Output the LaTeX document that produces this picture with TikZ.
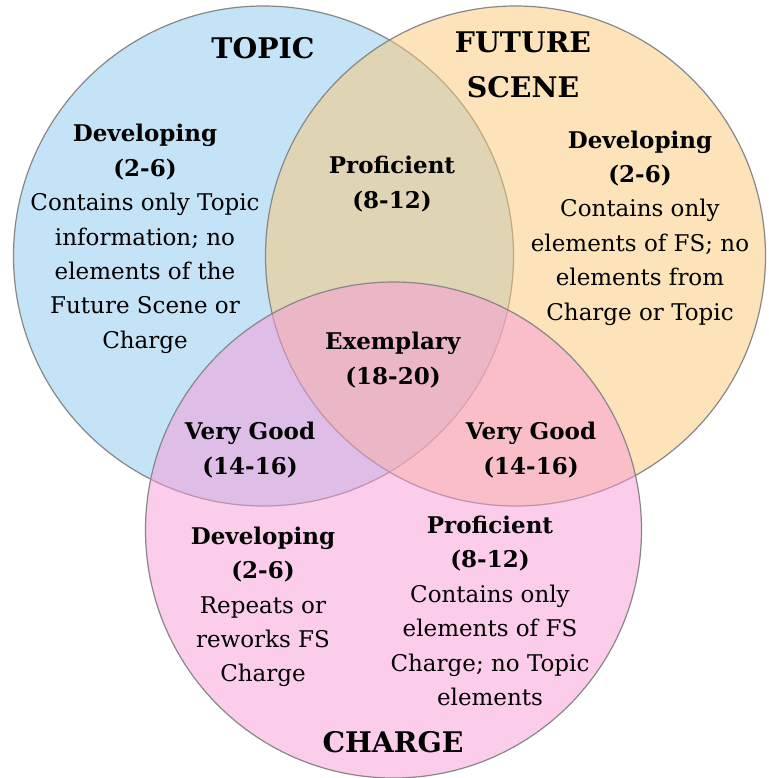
\documentclass[tikz,border=0pt]{standalone}
\usepackage{fontspec}
\setmainfont{DejaVu Serif}
\definecolor{edge_gray}{RGB}{135,135,135}
\definecolor{set_blue}{RGB}{139,199,237}
\definecolor{set_orange}{RGB}{251,199,117}
\definecolor{set_pink}{RGB}{247,155,215}
\begin{document}
\begin{tikzpicture}[x=0.5pt,y=-0.5pt]
    \tikzstyle{setcircle}=[draw=edge_gray, line width=0.6pt, fill opacity=0.5]
    \tikzstyle{title}=[font=\fontsize{14.2}{22.5}\selectfont\bfseries, align=center, inner sep=0pt, text=black]
    \tikzstyle{score}=[font=\fontsize{11.5}{17.2}\selectfont, align=center, inner sep=0pt, text=black]

    \useasboundingbox (0,0) rectangle (768,778);

    % the three sets
    \draw[setcircle,fill=set_blue]   (263.5,256) circle [radius=125pt];
    \draw[setcircle,fill=set_orange] (515.5,256) circle [radius=125pt];
    \draw[setcircle,fill=set_pink]   (393.5,530) circle [radius=124pt];

    \node[title] (topic)  at (263,48)  {TOPIC};
    \node[title] (future) at (523,65)  {FUTURE\\SCENE};
    \node[title] (charge) at (393,742) {CHARGE};

    % one set only
    \node[score] (topic_dev)  at (145,239) {\textbf{Developing}\\\textbf{(2-6)}\\Contains only Topic\\information; no\\elements of the\\Future Scene or\\Charge};
    \node[score] (future_dev) at (640,228) {\textbf{Developing}\\\textbf{(2-6)}\\Contains only\\elements of FS; no\\elements from\\Charge or Topic};
    \node[score] (charge_dev) at (263,607) {\textbf{Developing}\\\textbf{(2-6)}\\Repeats or\\reworks FS\\Charge};
    \node[score] (charge_prof) at (490,611) {\textbf{Proficient}\\\textbf{(8-12)}\\Contains only\\elements of FS\\Charge; no Topic\\elements};

    % overlaps
    \node[score] (prof)    at (392,184) {\textbf{Proficient}\\\textbf{(8-12)}};
    \node[score] (vgood_l) at (250,450) {\textbf{Very Good}\\\textbf{(14-16)}};
    \node[score] (vgood_r) at (531,450) {\textbf{Very Good}\\\textbf{(14-16)}};
    \node[score] (exemp)   at (393,360) {\textbf{Exemplary}\\\textbf{(18-20)}};
\end{tikzpicture}
\end{document}
